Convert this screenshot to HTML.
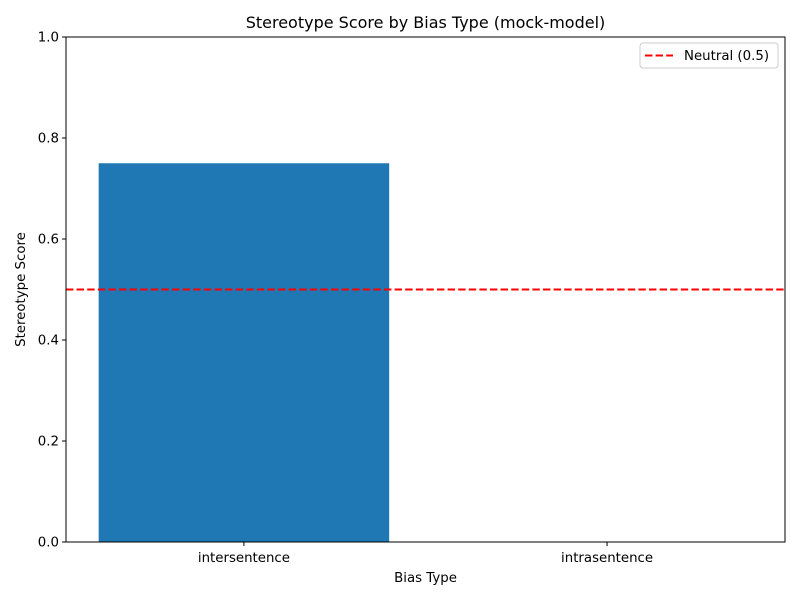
<!DOCTYPE html>
<html><head><meta charset="utf-8"><style>
body{margin:0;background:#fff}
svg{font-family:"DejaVu Sans","Liberation Sans",sans-serif}
</style></head><body>
<svg id="chart" width="800" height="600" xmlns="http://www.w3.org/2000/svg">
<rect width="800" height="600" fill="#fff"/>
<text x="425.5" y="28" font-size="16" text-anchor="middle">Stereotype Score by Bias Type (mock-model)</text>
<g id="bars"></g>
<g id="yticks"></g>
<g id="xticks"></g>
<line id="neutral" stroke="#ff0000" stroke-width="2" stroke-dasharray="7.4,3.2"/>
<rect x="66" y="37" width="719" height="505" fill="none" stroke="#000" stroke-width="1"/>
<text x="425.5" y="582" font-size="13.33" text-anchor="middle">Bias Type</text>
<text transform="translate(25,289.5) rotate(-90)" font-size="13.33" text-anchor="middle">Stereotype Score</text>
<g>
<rect x="640" y="43" width="138" height="25" rx="3" fill="#fff" stroke="#ccc"/>
<line x1="645" y1="55.5" x2="673" y2="55.5" stroke="#ff0000" stroke-width="2" stroke-dasharray="7.4,3.2"/>
<text x="684" y="60" font-size="13.33">Neutral (0.5)</text>
</g>
</svg>
<script>
const categories = ["intersentence", "intrasentence"];
const scores = [0.75, 0];
const yTickLabels = ["0.0","0.2","0.4","0.6","0.8","1.0"];
const yTickValues = [0,0.2,0.4,0.6,0.8,1.0];
const neutralValue = 0.5;

const NS="http://www.w3.org/2000/svg";
const L=66,R=785,T=37,B=542;
const xmin=-0.49,xmax=categories.length-1+0.49;
const xs=v=>L+(v-xmin)/(xmax-xmin)*(R-L);
const ys=v=>B-v*(B-T);
const bw=0.8*(R-L)/(xmax-xmin);
function mk(tag,attrs){const e=document.createElementNS(NS,tag);for(const k in attrs)e.setAttribute(k,attrs[k]);return e;}
const bars=document.getElementById('bars'),yt=document.getElementById('yticks'),xt=document.getElementById('xticks');
categories.forEach((c,i)=>{
  const r=mk('rect',{x:xs(i)-bw/2,y:ys(scores[i]),width:bw,height:ys(0)-ys(scores[i]),fill:'#1f77b4'});
  
  
  bars.appendChild(r);
  const tk=mk('line',{x1:xs(i),x2:xs(i),y1:B,y2:B+4,stroke:'#000'});
  
  
  xt.appendChild(tk);
  const t=mk('text',{x:xs(i),y:B+20,'font-size':13.33,'text-anchor':'middle'});
  t.textContent=c;
  
  
  xt.appendChild(t);
});
yTickValues.forEach((v,i)=>{
  const tk=mk('line',{x1:L-4,x2:L,y1:ys(v),y2:ys(v),stroke:'#000'});
  
  
  yt.appendChild(tk);
  const t=mk('text',{x:L-7,y:ys(v)+4.5,'font-size':13.33,'text-anchor':'end'});
  t.textContent=yTickLabels[i];
  
  
  yt.appendChild(t);
});
const n=document.getElementById('neutral');
n.setAttribute('x1',L);n.setAttribute('x2',R);n.setAttribute('y1',ys(neutralValue));n.setAttribute('y2',ys(neutralValue));
</script>
</body></html>
